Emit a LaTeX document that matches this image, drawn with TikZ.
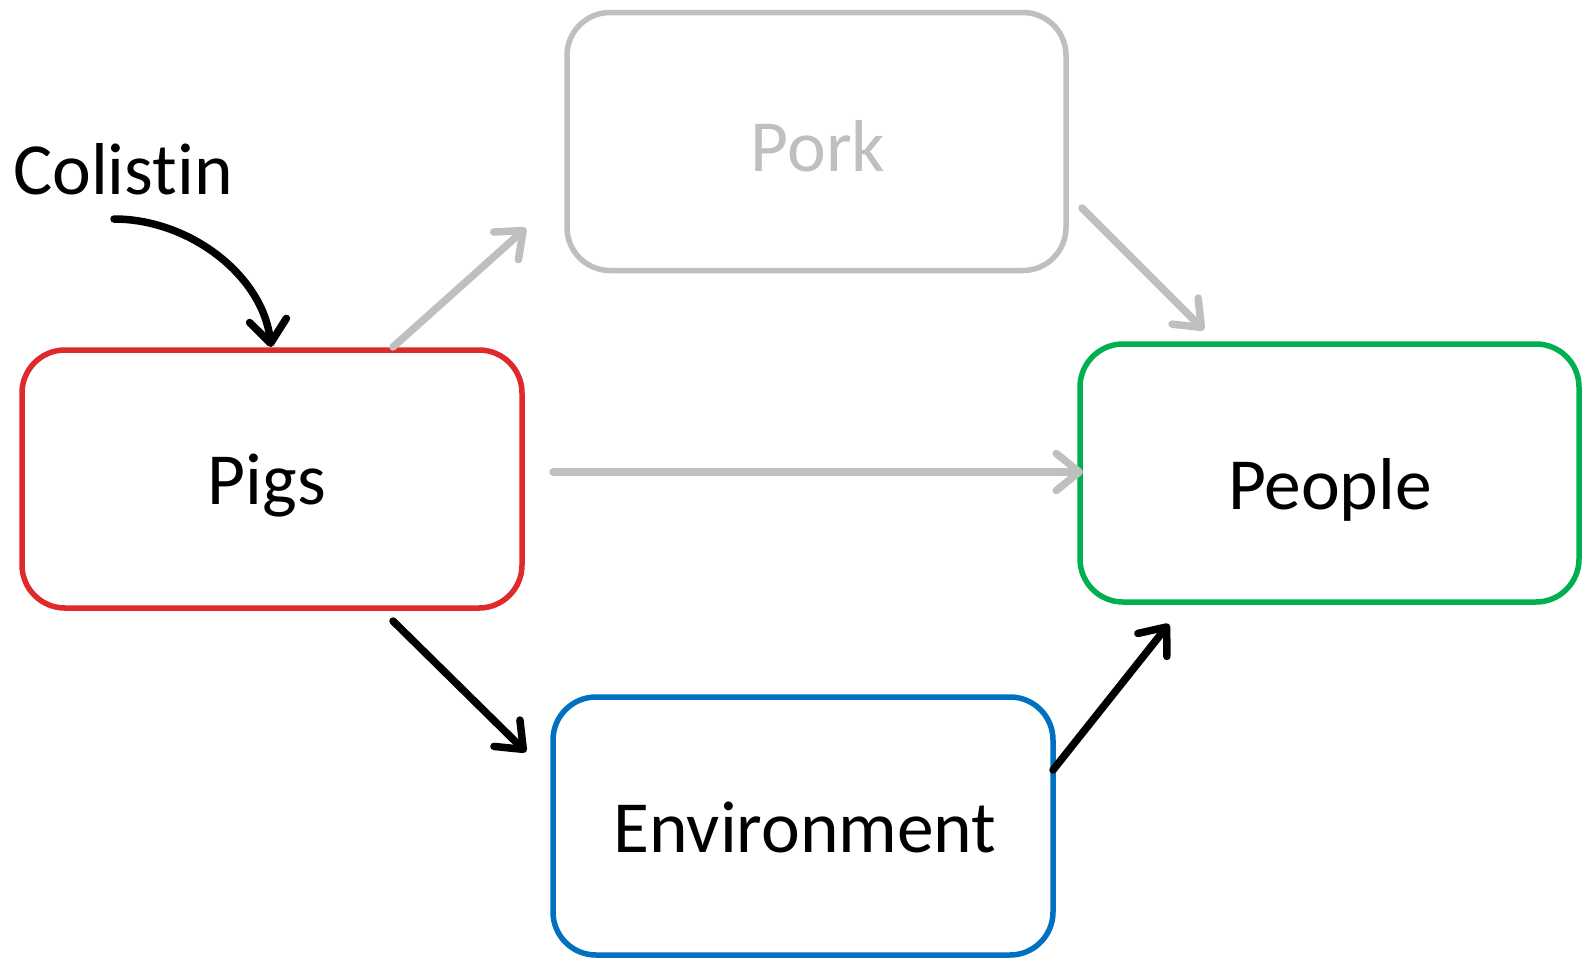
\documentclass[tikz,border=0pt]{standalone}
\usepackage{fontspec}
\setmainfont{Carlito}[Ligatures={NoCommon,NoRare,NoContextual}]
\usetikzlibrary{arrows.meta}
\definecolor{cgray}{HTML}{BFBFBF}
\definecolor{cred}{HTML}{DE2A2A}
\definecolor{cgreen}{HTML}{00B050}
\definecolor{cblue}{HTML}{0070C0}
\tikzset{
  box/.style={draw, line width=5.5pt, rounded corners=43pt, minimum width=#1, minimum height=258pt, inner sep=0pt},
  lbl/.style={anchor=base, inner sep=0pt, font=\fontsize{73.5}{80}\selectfont},
  link/.style={line width=7.5pt, line cap=round, line join=round, -{Straight Barb[length=23pt,width=37pt,line cap=round,line join=round]}},
}
\begin{document}
\begin{tikzpicture}[x=1pt,y=-1pt]
\useasboundingbox (0,0) rectangle (1583,959);
\node[box=499pt, draw=cgray] (pork) at (816.5,141.5) {};
\node[box=500pt, draw=cred] (pigs) at (272,479) {};
\node[box=499pt, draw=cgreen] (people) at (1329.5,473) {};
\node[box=500pt, draw=cblue] (env) at (803,826) {};
\node[lbl, text=cgray] (porkt) at (818,171) {Pork};
\node[lbl] (pigst) at (267,504) {Pigs};
\node[lbl] (peoplet) at (1330,509) {People};
\node[lbl] (envt) at (805,852) {Environment};
\node[lbl, anchor=base west] (col) at (13,194) {Colistin};
\coordinate (c0) at (114,219);
\coordinate (c1) at (271,347);
\coordinate (a0) at (393,347);
\coordinate (a1) at (526,228);
\coordinate (b0) at (1082,208);
\coordinate (b1) at (1204,330);
\coordinate (d0) at (553,472);
\coordinate (d1) at (1083,472);
\coordinate (e0) at (393,621);
\coordinate (e1) at (526,752);
\coordinate (f0) at (1053,770);
\coordinate (f1) at (1169,624);
\draw[link] (c0) .. controls (190,219) and (263,276) .. (c1);
\draw[link, cgray] (a0) -- (a1);
\draw[link, cgray] (b0) -- (b1);
\draw[link, cgray] (d0) -- (d1);
\draw[link] (e0) -- (e1);
\draw[link] (f0) -- (f1);
\end{tikzpicture}
\end{document}
